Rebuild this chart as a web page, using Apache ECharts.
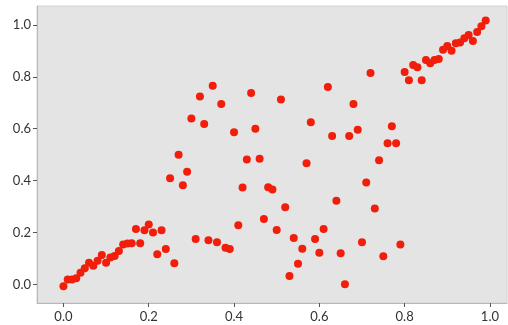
<!DOCTYPE html>
<html>
<head>
<meta charset="utf-8">
<script src="https://cdn.jsdelivr.net/npm/echarts@6/dist/echarts.min.js"></script>
<style>
  html, body { margin: 0; padding: 0; background: #fff; }
  #chart { width: 508px; height: 325px; }
</style>
</head>
<body>
<div id="chart"></div>
<script>
// values
const xValues = [
  0.00, 0.01, 0.02, 0.03, 0.04, 0.05, 0.06, 0.07, 0.08, 0.09,
  0.10, 0.11, 0.12, 0.13, 0.14, 0.15, 0.16, 0.17, 0.18, 0.19,
  0.20, 0.21, 0.22, 0.23, 0.24, 0.25, 0.26, 0.27, 0.28, 0.29,
  0.30, 0.31, 0.32, 0.33, 0.34, 0.35, 0.36, 0.37, 0.38, 0.39,
  0.40, 0.41, 0.42, 0.43, 0.44, 0.45, 0.46, 0.47, 0.48, 0.49,
  0.50, 0.51, 0.52, 0.53, 0.54, 0.55, 0.56, 0.57, 0.58, 0.59,
  0.60, 0.61, 0.62, 0.63, 0.64, 0.65, 0.66, 0.67, 0.68, 0.69,
  0.70, 0.71, 0.72, 0.73, 0.74, 0.75, 0.76, 0.77, 0.78, 0.79,
  0.80, 0.81, 0.82, 0.83, 0.84, 0.85, 0.86, 0.87, 0.88, 0.89,
  0.90, 0.91, 0.92, 0.93, 0.94, 0.95, 0.96, 0.97, 0.98, 0.99
];
const yValues = [
  -0.007, 0.019, 0.019, 0.023, 0.045, 0.062, 0.083, 0.072, 0.091, 0.113,
  0.083, 0.103, 0.109, 0.128, 0.154, 0.157, 0.158, 0.213, 0.158, 0.208,
  0.231, 0.200, 0.116, 0.208, 0.136, 0.409, 0.081, 0.500, 0.382, 0.434,
  0.639, 0.175, 0.724, 0.618, 0.170, 0.766, 0.162, 0.695, 0.141, 0.136,
  0.586, 0.228, 0.373, 0.481, 0.738, 0.600, 0.484, 0.252, 0.374, 0.366,
  0.209, 0.713, 0.297, 0.032, 0.179, 0.079, 0.137, 0.467, 0.625, 0.175,
  0.122, 0.213, 0.761, 0.572, 0.322, 0.120, 0.000, 0.572, 0.695, 0.596,
  0.162, 0.393, 0.815, 0.292, 0.478, 0.108, 0.544, 0.609, 0.544, 0.154,
  0.819, 0.787, 0.846, 0.837, 0.787, 0.865, 0.852, 0.865, 0.869, 0.904,
  0.919, 0.900, 0.929, 0.932, 0.949, 0.961, 0.938, 0.973, 0.995, 1.017
];
const tickValues = [0, 0.2, 0.4, 0.6, 0.8, 1.0];

const points = xValues.map((x, i) => [x, yValues[i]]);

const axisText = {
  color: '#333',
  fontFamily: 'Lato',
  fontSize: 13,
  formatter: v => Number(v).toFixed(1),
};

const chart = echarts.init(document.getElementById('chart'));
chart.setOption({
  animation: false,
  grid: {
    left: 37,
    right: 1,
    top: 6,
    bottom: 22,
    show: true,
    backgroundColor: '#e4e4e4',
    borderColor: '#d2d2d2',
    borderWidth: 1,
  },
  xAxis: {
    type: 'value',
    min: -0.062,
    max: 1.04,
    splitLine: { show: false },
    axisLine: { show: true, onZero: false, lineStyle: { color: '#b8b8b8', width: 1 } },
    axisTick: { show: true, length: 4, customValues: tickValues, lineStyle: { color: '#555' } },
    axisLabel: { ...axisText, margin: 7, customValues: tickValues },
  },
  yAxis: {
    type: 'value',
    min: -0.072,
    max: 1.073,
    splitLine: { show: false },
    axisLine: { show: true, onZero: false, lineStyle: { color: '#b8b8b8', width: 1 } },
    axisTick: { show: true, length: 4, customValues: tickValues, lineStyle: { color: '#555' } },
    axisLabel: { ...axisText, margin: 6, customValues: tickValues },
  },
  series: [
    {
      type: 'scatter',
      data: points,
      symbolSize: 8,
      itemStyle: { color: '#f01e0a', opacity: 1 },
    },
  ],
});
</script>
</body>
</html>
